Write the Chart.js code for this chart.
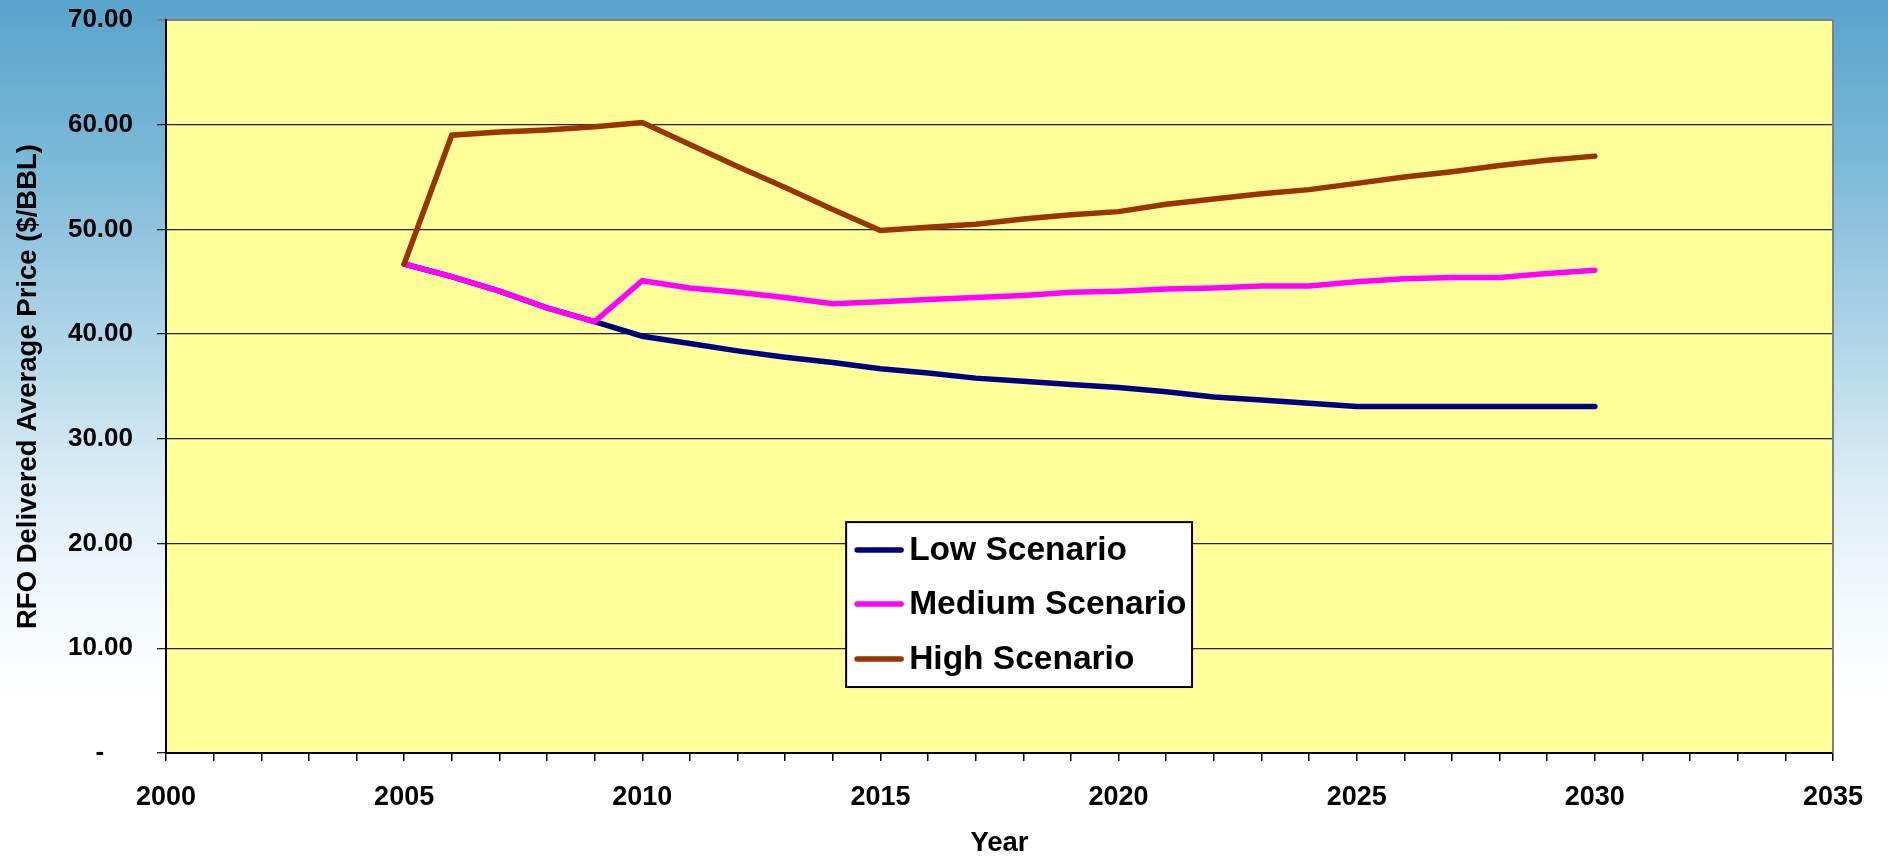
<!DOCTYPE html>
<html>
<head>
<meta charset="utf-8">
<script src="https://cdn.jsdelivr.net/npm/chart.js@4.4.1/dist/chart.umd.min.js"></script>
<style>
  html, body { margin: 0; padding: 0; overflow: hidden; }
  body {
    width: 1888px; height: 859px;
    background: linear-gradient(to bottom, #58a4cc 0%, #7ab8d8 18%, #acd3e7 38%, #d8ebf5 55%, #f3f9fc 70%, #ffffff 82%, #ffffff 100%);
  }
  #wrap { position: relative; width: 1888px; height: 859px; }
</style>
</head>
<body>
<div id="wrap"><canvas id="c"></canvas></div>
<script>
// ---- data ----
const years = [2005, 2006, 2007, 2008, 2009, 2010, 2011, 2012, 2013, 2014, 2015, 2016, 2017,
               2018, 2019, 2020, 2021, 2022, 2023, 2024, 2025, 2026, 2027, 2028, 2029, 2030];
const lowScenario = [46.7, 45.5, 44.1, 42.5, 41.2, 39.8, 39.1, 38.4, 37.8, 37.3, 36.7, 36.3, 35.8,
                     35.5, 35.2, 34.9, 34.5, 34.0, 33.7, 33.4, 33.1, 33.1, 33.1, 33.1, 33.1, 33.1];
const mediumScenario = [46.7, 45.5, 44.1, 42.5, 41.2, 45.1, 44.4, 44.0, 43.5, 42.9, 43.1, 43.3, 43.5,
                        43.7, 44.0, 44.1, 44.3, 44.4, 44.6, 44.6, 45.0, 45.3, 45.4, 45.4, 45.8, 46.1];
const highScenario = [46.7, 59.0, 59.3, 59.5, 59.8, 60.2, 58.1, 56.0, 54.0, 51.9, 49.9, 50.2, 50.5,
                      51.0, 51.4, 51.7, 52.4, 52.9, 53.4, 53.8, 54.4, 55.0, 55.5, 56.1, 56.6, 57.0];
const seriesLabels = ['Low Scenario', 'Medium Scenario', 'High Scenario'];
const seriesColors = ['#000080', '#FF00FF', '#993300'];
const xMin = 2000, xMax = 2035;
const yMin = 0, yMax = 70;

const FONT = "'Liberation Sans', Arial, sans-serif";
const toPoints = arr => years.map((yr, i) => ({ x: yr, y: arr[i] }));

const plotBg = {
  id: 'plotBg',
  beforeDraw(chart) {
    const { ctx, chartArea: a } = chart;
    ctx.save();
    ctx.fillStyle = '#FFFF99';
    ctx.fillRect(a.left, a.top, a.right - a.left, a.bottom - a.top);
    ctx.restore();
  },
  afterDatasetsDraw(chart) {
    const { ctx, chartArea: a } = chart;
    ctx.save();
    ctx.strokeStyle = '#808080';
    ctx.lineWidth = 2;
    ctx.beginPath();
    ctx.moveTo(a.right, a.top);
    ctx.lineTo(a.right, a.bottom);
    ctx.stroke();
    ctx.restore();
  }
};

const boxLegend = {
  id: 'boxLegend',
  afterDraw(chart) {
    const { ctx, chartArea: a } = chart;
    const w = a.right - a.left, h = a.bottom - a.top;
    const x0 = a.left + w * 0.408, x1 = a.left + w * 0.6155;
    const y0 = a.top + h * 0.685, y1 = a.top + h * 0.910;
    ctx.save();
    ctx.fillStyle = '#ffffff';
    ctx.fillRect(x0, y0, x1 - x0, y1 - y0);
    ctx.strokeStyle = '#000';
    ctx.lineWidth = 2;
    ctx.strokeRect(x0, y0, x1 - x0, y1 - y0);
    const rows = [28, 82, 137];
    ctx.font = 'bold 33.5px ' + FONT;
    ctx.textBaseline = 'middle';
    ctx.textAlign = 'left';
    chart.data.datasets.forEach(d => {
      const idx = seriesLabels.indexOf(d.label);
      const yy = y0 + rows[idx];
      ctx.strokeStyle = d.borderColor;
      ctx.lineWidth = 5.5;
      ctx.lineCap = 'round';
      ctx.beginPath();
      ctx.moveTo(x0 + 11, yy);
      ctx.lineTo(x0 + 55, yy);
      ctx.stroke();
      ctx.fillStyle = '#000';
      ctx.fillText(d.label, x0 + 63, yy + 1);
    });
    ctx.restore();
  }
};

const ds = (label, arr, color, order) => ({
  label, data: toPoints(arr), borderColor: color, backgroundColor: color,
  borderWidth: 5.5, pointRadius: 0, pointHoverRadius: 0, tension: 0, fill: false,
  borderCapStyle: 'round', borderJoinStyle: 'miter', order
});

new Chart(document.getElementById('c'), {
  type: 'line',
  data: {
    datasets: [
      ds(seriesLabels[0], lowScenario, seriesColors[0], 2),
      ds(seriesLabels[1], mediumScenario, seriesColors[1], 1),
      ds(seriesLabels[2], highScenario, seriesColors[2], 0)
    ]
  },
  options: {
    responsive: true,
    maintainAspectRatio: false,
    animation: false,
    layout: { padding: { top: 20, right: 55, bottom: 0, left: 0 } },
    plugins: { legend: { display: false }, tooltip: { enabled: false } },
    scales: {
      x: {
        type: 'linear', min: xMin, max: xMax,
        ticks: {
          stepSize: 1, autoSkip: false, maxRotation: 0, color: '#000', padding: 20,
          font: { family: FONT, weight: 'bold', size: 27 },
          callback: v => (v % 5 === 0 ? String(v) : '')
        },
        grid: { drawOnChartArea: false, drawTicks: true, tickLength: 8, color: '#000', lineWidth: 1.5 },
        border: { color: '#000', width: 2 },
        title: {
          display: true, text: 'Year', color: '#000',
          font: { family: FONT, weight: 'bold', size: 27.5, lineHeight: 1.1 },
          padding: { top: 0, bottom: 0 }
        },
        afterFit: s => { s.height = 106; }
      },
      y: {
        min: yMin, max: yMax,
        ticks: {
          stepSize: 10, color: '#000', padding: 24,
          font: { family: FONT, weight: 'bold', size: 26 },
          callback: v => (v === 0 ? '-    ' : v.toFixed(2))
        },
        grid: {
          color: c => (c.tick && c.tick.value === yMax ? '#808080' : '#222'),
          lineWidth: c => (c.tick && c.tick.value === yMax ? 2 : 1.3),
          tickLength: 9, drawTicks: true
        },
        border: { color: '#000', width: 2 },
        title: {
          display: true, text: 'RFO Delivered Average Price ($/BBL)', color: '#000',
          font: { family: FONT, weight: 'bold', size: 27.5, lineHeight: 1.2 },
          padding: { top: 12, bottom: 0 }
        },
        afterFit: s => { s.width = 166; s.paddingTop = 0; s.paddingBottom = 0; }
      }
    }
  },
  plugins: [plotBg, boxLegend]
});
</script>
</body>
</html>
